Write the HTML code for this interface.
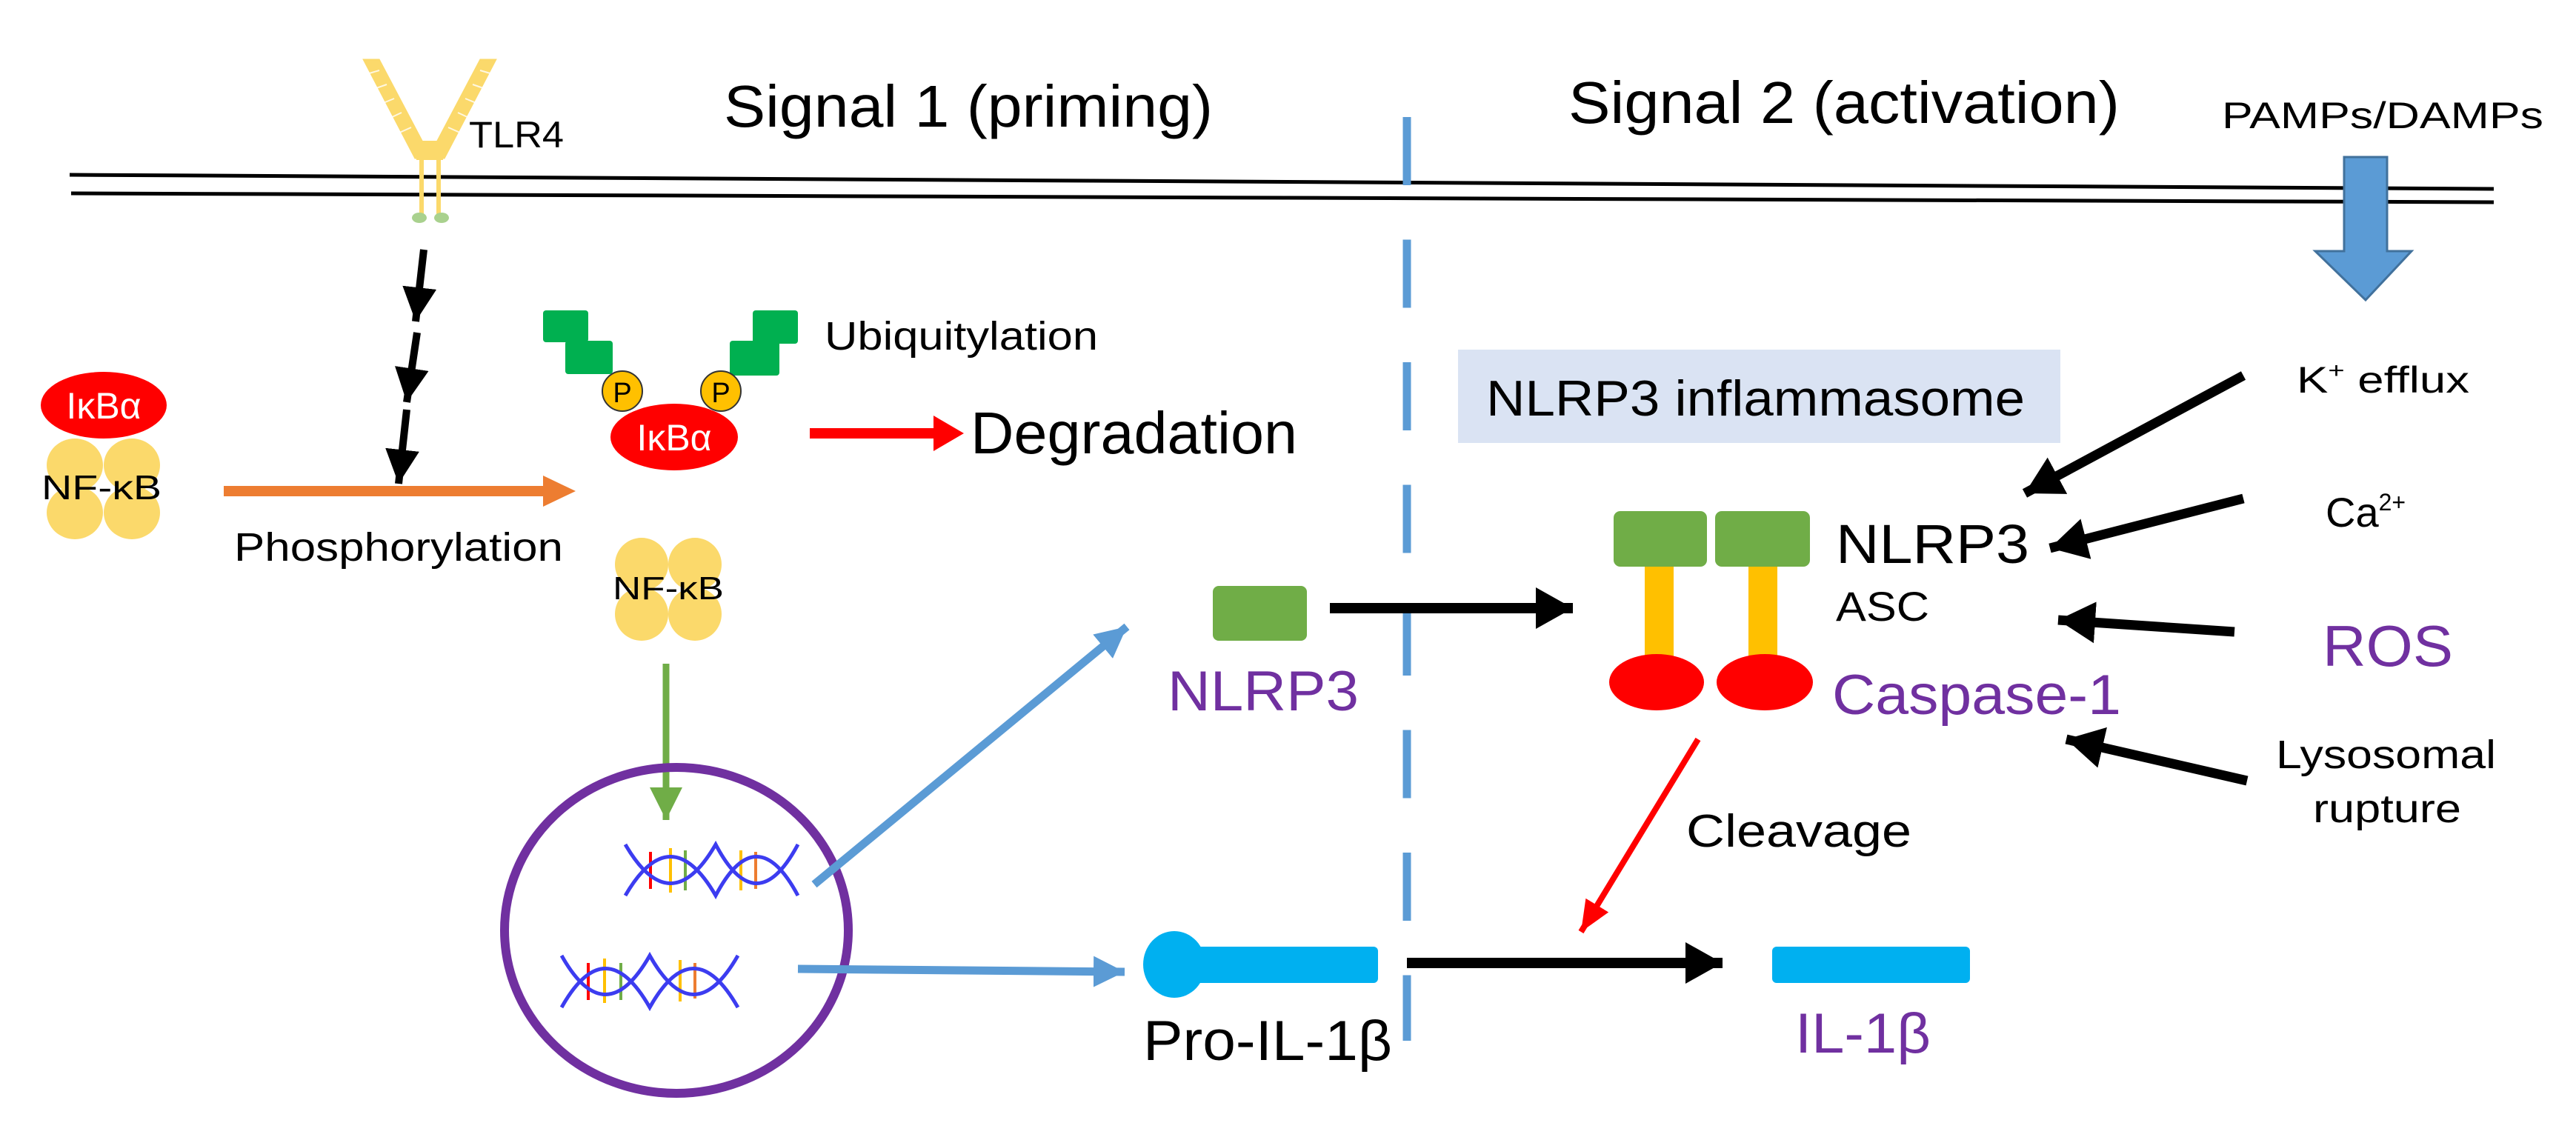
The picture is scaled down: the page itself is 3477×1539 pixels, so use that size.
<!DOCTYPE html>
<html><head><meta charset="utf-8"><style>
html,body{margin:0;padding:0;background:#fff}
svg{display:block}
text{font-family:"Liberation Sans",Arial,sans-serif}
</style></head><body>
<svg width="3477" height="1539" viewBox="0 0 3477 1539" xmlns="http://www.w3.org/2000/svg">
<defs>
<marker id="mk" markerUnits="userSpaceOnUse" markerWidth="50" markerHeight="46" refX="46" refY="23" orient="auto"><path d="M0,0 L46,23 L0,46 z" fill="#000"/></marker>
<marker id="mb" markerUnits="userSpaceOnUse" markerWidth="46" markerHeight="42" refX="42" refY="21" orient="auto"><path d="M0,0 L42,21 L0,42 z" fill="#5b9bd5"/></marker>
<marker id="mg" markerUnits="userSpaceOnUse" markerWidth="46" markerHeight="44" refX="44" refY="22" orient="auto"><path d="M0,0 L44,22 L0,44 z" fill="#70ad47"/></marker>
<marker id="mr" markerUnits="userSpaceOnUse" markerWidth="46" markerHeight="36" refX="42" refY="18" orient="auto"><path d="M0,0 L42,18 L0,36 z" fill="#f00"/></marker>
<marker id="md" markerUnits="userSpaceOnUse" markerWidth="54" markerHeight="56" refX="50" refY="28" orient="auto"><path d="M0,0 L50,28 L0,56 z" fill="#000"/></marker>
</defs>

<line x1="94" y1="236" x2="3366" y2="255" stroke="#000" stroke-width="5"/>
<line x1="96" y1="261" x2="3366" y2="273" stroke="#000" stroke-width="5"/>

<line x1="1899" y1="158" x2="1899" y2="1405" stroke="#5b9bd5" stroke-width="11" stroke-dasharray="92 73.5"/>

<g fill="#fbd96b" stroke="#fbd96b">
<path d="M490,80 L512,80 L570,190 L570,214 L560,214 Z" />
<path d="M670,80 L648,80 L590,190 L590,214 L600,214 Z" />
<rect x="562" y="190" width="36" height="26" stroke="none"/>
</g>
<g stroke="#fff" stroke-width="2" opacity="0.8">
<line x1="495" y1="100" x2="512" y2="95"/><line x1="505" y1="120" x2="522" y2="114"/><line x1="515" y1="140" x2="532" y2="133"/><line x1="525" y1="160" x2="542" y2="152"/><line x1="537" y1="180" x2="555" y2="172"/>
<line x1="665" y1="100" x2="648" y2="95"/><line x1="655" y1="120" x2="638" y2="114"/><line x1="645" y1="140" x2="628" y2="133"/><line x1="635" y1="160" x2="618" y2="152"/><line x1="623" y1="180" x2="605" y2="172"/>
</g>
<line x1="569" y1="214" x2="569" y2="290" stroke="#fbd96b" stroke-width="6"/>
<line x1="592" y1="214" x2="592" y2="290" stroke="#fbd96b" stroke-width="6"/>
<ellipse cx="566" cy="294" rx="10" ry="7" fill="#a9d18e"/>
<ellipse cx="596" cy="294" rx="10" ry="7" fill="#a9d18e"/>
<text x="633" y="199" font-size="50" textLength="128" lengthAdjust="spacingAndGlyphs">TLR4</text>

<text x="977" y="171" font-size="80" textLength="660" lengthAdjust="spacingAndGlyphs">Signal 1 (priming)</text>
<text x="2117" y="166" font-size="80" textLength="744" lengthAdjust="spacingAndGlyphs">Signal 2 (activation)</text>
<text x="2999" y="173" font-size="50" textLength="434" lengthAdjust="spacingAndGlyphs">PAMPs/DAMPs</text>

<path d="M3164,212 L3222,212 L3222,339 L3255,339 L3193,405 L3125,339 L3164,339 Z" fill="#5b9bd5" stroke="#41719c" stroke-width="3"/>

<g fill="#fbd96b">
<ellipse cx="101" cy="628" rx="38" ry="36"/><ellipse cx="178" cy="628" rx="38" ry="36"/>
<ellipse cx="101" cy="692" rx="38" ry="36"/><ellipse cx="178" cy="692" rx="38" ry="36"/>
</g>
<ellipse cx="140" cy="547" rx="85" ry="45" fill="#f00"/>
<text x="140" y="565" font-size="50" fill="#fff" text-anchor="middle" font-family="Liberation Serif">IκBα</text>
<text x="137" y="674" font-size="46" text-anchor="middle" textLength="162" lengthAdjust="spacingAndGlyphs">NF-κB</text>

<path d="M302,656 L733,656 L733,642 L777,663 L733,684 L733,670 L302,670 Z" fill="#ed7d31"/>
<text x="316" y="757" font-size="54" textLength="444" lengthAdjust="spacingAndGlyphs">Phosphorylation</text>

<line x1="572" y1="337" x2="561" y2="434" stroke="#000" stroke-width="10" marker-end="url(#mk)"/>
<line x1="563" y1="449" x2="549" y2="543" stroke="#000" stroke-width="10" marker-end="url(#mk)"/>
<line x1="549" y1="553" x2="538" y2="653" stroke="#000" stroke-width="10" marker-end="url(#mk)"/>

<g fill="#00b050">
<rect x="733" y="419" width="61" height="43" rx="4"/><rect x="763" y="460" width="64" height="45" rx="4"/>
<rect x="1016" y="419" width="61" height="45" rx="4"/><rect x="985" y="460" width="67" height="47" rx="4"/>
</g>
<ellipse cx="910" cy="590" rx="86" ry="45" fill="#f00"/>
<text x="910" y="608" font-size="50" fill="#fff" text-anchor="middle" font-family="Liberation Serif">IκBα</text>
<circle cx="840" cy="528" r="27" fill="#ffc000" stroke="#333" stroke-width="2"/>
<circle cx="973" cy="528" r="27" fill="#ffc000" stroke="#333" stroke-width="2"/>
<text x="840" y="543" font-size="38" text-anchor="middle">P</text>
<text x="973" y="543" font-size="38" text-anchor="middle">P</text>
<text x="1113" y="472" font-size="54" textLength="369" lengthAdjust="spacingAndGlyphs">Ubiquitylation</text>

<path d="M1093,578 L1260,578 L1260,561 L1301,585 L1260,609 L1260,592 L1093,592 Z" fill="#f00"/>
<text x="1310" y="612" font-size="80" textLength="441" lengthAdjust="spacingAndGlyphs">Degradation</text>

<g fill="#fbd96b">
<ellipse cx="866" cy="762" rx="36" ry="36"/><ellipse cx="938" cy="762" rx="36" ry="36"/>
<ellipse cx="866" cy="829" rx="36" ry="36"/><ellipse cx="938" cy="829" rx="36" ry="36"/>
</g>
<text x="902" y="809" font-size="44" text-anchor="middle" textLength="150" lengthAdjust="spacingAndGlyphs">NF-κB</text>

<line x1="899" y1="896" x2="899" y2="1107" stroke="#70ad47" stroke-width="9" marker-end="url(#mg)"/>

<ellipse cx="913" cy="1256" rx="232" ry="220" fill="none" stroke="#7030a0" stroke-width="12"/>

<g stroke-width="4">
<line x1="878" y1="1150" x2="878" y2="1200" stroke="#f00"/><line x1="905" y1="1145" x2="905" y2="1205" stroke="#ffc000"/><line x1="925" y1="1148" x2="925" y2="1202" stroke="#70ad47"/>
<line x1="1000" y1="1148" x2="1000" y2="1202" stroke="#ffc000"/><line x1="1020" y1="1150" x2="1020" y2="1200" stroke="#ed7d31"/>
<line x1="794" y1="1300" x2="794" y2="1350" stroke="#f00"/><line x1="816" y1="1294" x2="816" y2="1354" stroke="#ffc000"/><line x1="838" y1="1300" x2="838" y2="1350" stroke="#70ad47"/>
<line x1="918" y1="1296" x2="918" y2="1352" stroke="#ffc000"/><line x1="938" y1="1300" x2="938" y2="1348" stroke="#ed7d31"/>
</g>
<g fill="none" stroke="#3c3cf0" stroke-width="5">
<path d="M844,1140 Q905,1245 966,1140 Q1021,1245 1077,1140"/>
<path d="M844,1209 Q905,1104 966,1209 Q1021,1104 1077,1209"/>
<path d="M758,1290 Q817,1395 877,1290 Q936,1395 996,1290"/>
<path d="M758,1360 Q817,1255 877,1360 Q936,1255 996,1360"/>
</g>

<line x1="1099" y1="1194" x2="1521" y2="846" stroke="#5b9bd5" stroke-width="11" marker-end="url(#mb)"/>
<line x1="1077" y1="1308" x2="1518" y2="1312" stroke="#5b9bd5" stroke-width="11" marker-end="url(#mb)"/>

<rect x="1637" y="791" width="127" height="74" rx="8" fill="#70ad47"/>
<text x="1576" y="959" font-size="76" fill="#7030a0" textLength="258" lengthAdjust="spacingAndGlyphs">NLRP3</text>
<line x1="1795" y1="821" x2="2123" y2="821" stroke="#000" stroke-width="14" marker-end="url(#md)"/>

<rect x="1968" y="472" width="813" height="126" fill="#dae3f3"/>
<text x="2006" y="561" font-size="68" textLength="727" lengthAdjust="spacingAndGlyphs">NLRP3 inflammasome</text>

<rect x="2220" y="760" width="39" height="130" fill="#ffc000"/>
<rect x="2360" y="760" width="39" height="130" fill="#ffc000"/>
<rect x="2178" y="690" width="126" height="75" rx="9" fill="#70ad47"/>
<rect x="2315" y="690" width="128" height="75" rx="9" fill="#70ad47"/>
<ellipse cx="2236" cy="921" rx="64" ry="38" fill="#f00"/>
<ellipse cx="2382" cy="921" rx="65" ry="38" fill="#f00"/>
<text x="2478" y="760" font-size="74" textLength="261" lengthAdjust="spacingAndGlyphs">NLRP3</text>
<text x="2478" y="838" font-size="56" textLength="126" lengthAdjust="spacingAndGlyphs">ASC</text>
<text x="2473" y="964" font-size="76" fill="#7030a0" textLength="390" lengthAdjust="spacingAndGlyphs">Caspase-1</text>

<text x="3100" y="530" font-size="50" textLength="233" lengthAdjust="spacingAndGlyphs">K<tspan font-size="30" dy="-20">+</tspan><tspan dy="20"> efflux</tspan></text>
<text x="3139" y="711" font-size="56">Ca<tspan font-size="32" dy="-22">2+</tspan></text>
<text x="3135" y="899" font-size="78" fill="#7030a0" textLength="176" lengthAdjust="spacingAndGlyphs">ROS</text>
<text x="3072" y="1037" font-size="54" textLength="297" lengthAdjust="spacingAndGlyphs">Lysosomal</text>
<text x="3122" y="1110" font-size="54" textLength="200" lengthAdjust="spacingAndGlyphs">rupture</text>
<line x1="3028" y1="507" x2="2733" y2="666" stroke="#000" stroke-width="13" marker-end="url(#md)"/>
<line x1="3028" y1="673" x2="2767" y2="740" stroke="#000" stroke-width="13" marker-end="url(#md)"/>
<line x1="3016" y1="853" x2="2778" y2="837" stroke="#000" stroke-width="13" marker-end="url(#md)"/>
<line x1="3033" y1="1054" x2="2789" y2="998" stroke="#000" stroke-width="13" marker-end="url(#md)"/>

<line x1="2292" y1="998" x2="2134" y2="1258" stroke="#f00" stroke-width="8" marker-end="url(#mr)"/>
<text x="2276" y="1143" font-size="62" textLength="304" lengthAdjust="spacingAndGlyphs">Cleavage</text>

<ellipse cx="1585" cy="1302" rx="42" ry="45" fill="#00b0f0"/>
<rect x="1600" y="1278" width="260" height="49" rx="6" fill="#00b0f0"/>
<text x="1543" y="1431" font-size="76" textLength="336" lengthAdjust="spacingAndGlyphs">Pro-IL-1β</text>
<line x1="1899" y1="1300" x2="2325" y2="1300" stroke="#000" stroke-width="14" marker-end="url(#md)"/>
<rect x="2392" y="1278" width="267" height="49" rx="6" fill="#00b0f0"/>
<text x="2423" y="1421" font-size="76" fill="#7030a0" textLength="183" lengthAdjust="spacingAndGlyphs">IL-1β</text>
</svg>
</body></html>
